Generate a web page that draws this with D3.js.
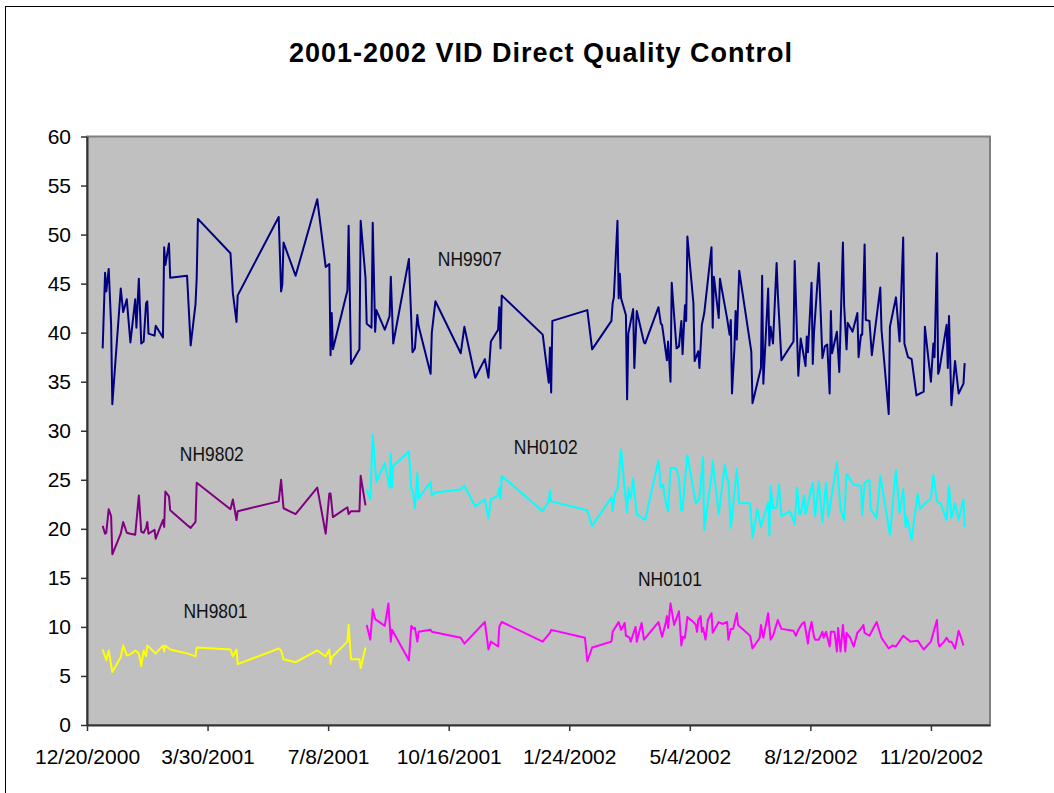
<!DOCTYPE html>
<html>
<head>
<meta charset="utf-8">
<script src="https://cdn.jsdelivr.net/npm/d3@7"></script>
<style>
  body { margin: 0; background: #fff; }
  svg { display: block; font-family: "Liberation Sans", Arial, sans-serif; }
</style>
</head>
<body>
<div class="chart"></div>
<script>
// dates are Excel day serials (36880 = 12/20/2000)
const nh9907 = [
  [36893, 38.4], [36895, 46.1], [36896, 44.2], [36898, 46.5], [36900, 40.8], [36901, 32.7],
  [36908, 44.5], [36910, 42.1], [36913, 43.4], [36916, 39.0], [36920, 43.4], [36921, 40.5],
  [36923, 45.5], [36925, 38.9], [36927, 39.1], [36929, 43.0], [36930, 43.2], [36931, 39.9],
  [36936, 39.7], [36937, 40.7], [36943, 39.5], [36944, 48.7], [36945, 46.9], [36948, 49.1],
  [36949, 45.6], [36963, 45.8], [36966, 38.7], [36970, 42.9], [36971, 45.6], [36972, 51.6],
  [36999, 48.1], [37001, 44.0], [37004, 41.1], [37005, 43.8], [37039, 51.8], [37041, 44.2],
  [37042, 44.9], [37043, 49.2], [37053, 45.8], [37071, 53.6], [37078, 46.7], [37081, 47.0],
  [37082, 37.7], [37083, 42.0], [37084, 38.3], [37096, 44.3], [37097, 50.9], [37099, 36.8],
  [37106, 38.3], [37107, 51.4], [37111, 45.6], [37112, 40.9], [37116, 40.5], [37117, 51.2],
  [37119, 40.1], [37120, 42.3], [37127, 40.3], [37131, 41.7], [37132, 45.7], [37134, 38.9],
  [37147, 47.5], [37150, 38.0], [37152, 38.4], [37154, 41.8], [37155, 40.7], [37165, 35.8],
  [37166, 40.0], [37169, 43.2], [37190, 37.9], [37193, 40.6], [37202, 35.4], [37210, 37.3],
  [37213, 35.4], [37215, 39.1], [37221, 40.3], [37222, 42.6], [37223, 38.4], [37224, 43.8],
  [37258, 39.8], [37263, 34.9], [37264, 38.5], [37265, 33.9], [37266, 41.2], [37295, 42.3],
  [37299, 38.3], [37315, 41.2], [37316, 43.0], [37317, 43.6], [37320, 51.4], [37321, 43.5],
  [37322, 46.0], [37323, 43.5], [37327, 41.8], [37328, 33.2], [37329, 39.9], [37333, 42.4],
  [37334, 36.4], [37336, 42.2], [37342, 39.0], [37343, 38.9], [37354, 42.6], [37356, 40.9],
  [37357, 40.8], [37361, 37.2], [37362, 39.1], [37364, 35.0], [37365, 45.1], [37369, 38.4],
  [37371, 38.6], [37373, 41.2], [37374, 37.8], [37376, 42.8], [37377, 41.2], [37378, 49.8],
  [37383, 43.0], [37384, 37.1], [37387, 38.1], [37388, 36.4], [37390, 40.8], [37392, 42.0],
  [37398, 48.7], [37399, 40.5], [37400, 45.7], [37404, 41.5], [37405, 45.5], [37411, 41.4],
  [37413, 39.8], [37414, 41.3], [37415, 33.8], [37417, 38.4], [37418, 42.2], [37419, 39.3],
  [37421, 46.3], [37431, 38.1], [37432, 32.8], [37439, 36.4], [37440, 45.8], [37441, 34.8],
  [37445, 44.5], [37446, 38.7], [37447, 40.6], [37449, 38.9], [37452, 47.1], [37453, 44.0],
  [37456, 37.2], [37466, 39.1], [37467, 47.3], [37470, 35.6], [37472, 39.4], [37476, 36.6],
  [37477, 39.6], [37478, 38.0], [37481, 45.1], [37482, 36.8], [37483, 40.0], [37487, 47.1],
  [37490, 37.4], [37492, 38.6], [37494, 38.8], [37496, 33.8], [37497, 42.2], [37498, 37.9],
  [37502, 40.1], [37504, 36.0], [37507, 49.2], [37508, 42.8], [37510, 38.3], [37511, 41.0],
  [37515, 40.1], [37519, 42.0], [37520, 37.5], [37522, 39.8], [37523, 39.8], [37525, 49.0],
  [37526, 41.3], [37529, 41.2], [37531, 37.7], [37538, 44.6], [37539, 40.3], [37545, 31.7],
  [37546, 40.6], [37551, 43.6], [37554, 39.1], [37557, 49.7], [37558, 38.9], [37561, 37.5],
  [37564, 37.3], [37568, 33.6], [37574, 34.0], [37575, 40.6], [37580, 35.0], [37582, 38.9],
  [37583, 37.5], [37585, 48.1], [37586, 35.8], [37587, 36.2], [37593, 40.8], [37594, 36.4],
  [37595, 41.7], [37597, 32.6], [37600, 37.1], [37603, 33.8], [37607, 34.8], [37608, 36.9]
];

const nh9802 = [
  [36893, 20.3], [36895, 19.5], [36896, 19.6], [36898, 22.0], [36900, 21.3], [36901, 17.4],
  [36908, 19.5], [36910, 20.7], [36913, 19.6], [36916, 19.5], [36920, 19.4], [36923, 23.4],
  [36925, 19.7], [36927, 19.6], [36929, 20.1], [36930, 20.7], [36931, 19.5], [36936, 19.9],
  [36937, 19.0], [36943, 20.9], [36944, 20.2], [36945, 23.8], [36948, 23.3], [36949, 21.9],
  [36963, 20.4], [36966, 20.1], [36970, 20.7], [36971, 24.7], [36999, 22.0], [37001, 23.0],
  [37004, 20.9], [37005, 21.8], [37039, 22.8], [37041, 25.0], [37043, 22.1], [37053, 21.5],
  [37071, 24.2], [37078, 19.5], [37081, 23.6], [37082, 23.6], [37084, 21.2], [37096, 22.2],
  [37097, 21.5], [37099, 21.8], [37106, 21.8], [37107, 25.4], [37111, 22.4]
];

const nh0102 = [
  [37112, 24.0], [37115, 23.0], [37117, 29.6], [37120, 24.8], [37127, 26.7], [37131, 24.2],
  [37132, 27.7], [37133, 24.2], [37134, 26.4], [37147, 27.9], [37149, 24.0], [37150, 24.0],
  [37152, 22.1], [37154, 25.7], [37155, 23.1], [37165, 24.8], [37166, 23.4], [37169, 23.7],
  [37190, 24.0], [37193, 24.4], [37202, 22.3], [37210, 23.0], [37213, 21.1], [37215, 23.0],
  [37221, 23.4], [37222, 24.2], [37223, 23.1], [37224, 25.4], [37258, 21.8], [37263, 22.8],
  [37264, 23.9], [37265, 22.8], [37295, 21.9], [37299, 20.3], [37315, 23.2], [37316, 21.8],
  [37318, 23.7], [37320, 24.0], [37323, 28.1], [37326, 24.0], [37328, 21.7], [37329, 24.2],
  [37331, 23.1], [37333, 25.1], [37336, 21.5], [37343, 20.9], [37354, 27.0], [37356, 24.2],
  [37358, 24.5], [37359, 23.3], [37362, 21.8], [37364, 26.2], [37367, 26.2], [37369, 26.1],
  [37371, 25.1], [37373, 21.9], [37374, 21.9], [37376, 25.0], [37378, 27.5], [37382, 24.7],
  [37385, 22.6], [37388, 23.1], [37391, 27.3], [37392, 19.9], [37398, 25.4], [37399, 26.9],
  [37401, 24.7], [37404, 21.5], [37409, 26.5], [37411, 25.0], [37412, 25.0], [37414, 20.1],
  [37419, 26.1], [37421, 22.6], [37430, 22.6], [37432, 19.1], [37436, 22.0], [37439, 20.2],
  [37445, 22.7], [37446, 19.3], [37447, 24.4], [37449, 22.1], [37452, 22.2], [37454, 24.5],
  [37456, 21.3], [37463, 21.8], [37467, 20.5], [37469, 24.2], [37471, 21.5], [37472, 21.5],
  [37475, 23.4], [37476, 21.5], [37482, 24.7], [37484, 21.3], [37487, 24.8], [37490, 20.7],
  [37493, 24.7], [37495, 21.2], [37502, 26.8], [37505, 22.0], [37508, 20.9], [37510, 25.6],
  [37516, 24.5], [37522, 24.4], [37523, 21.4], [37525, 24.7], [37529, 25.0], [37530, 22.0],
  [37535, 21.1], [37538, 25.4], [37546, 19.4], [37551, 26.0], [37554, 21.6], [37557, 24.0],
  [37559, 20.2], [37560, 21.2], [37564, 18.9], [37569, 23.6], [37571, 22.0], [37575, 22.6],
  [37580, 23.1], [37582, 25.5], [37585, 22.8], [37588, 22.6], [37593, 20.9], [37595, 24.4],
  [37597, 21.1], [37600, 22.6], [37603, 20.9], [37607, 23.0], [37608, 20.2]
];

const nh9801 = [
  [36893, 7.7], [36896, 6.6], [36898, 7.6], [36901, 5.4], [36908, 6.9], [36910, 8.1],
  [36913, 7.1], [36916, 7.2], [36920, 7.6], [36923, 7.3], [36925, 6.0], [36927, 7.6],
  [36929, 7.0], [36930, 8.1], [36937, 7.3], [36943, 8.1], [36944, 7.5], [36945, 8.1],
  [36949, 7.7], [36963, 7.3], [36970, 7.0], [36971, 7.9], [36999, 7.7], [37001, 7.0],
  [37004, 7.7], [37005, 6.2], [37039, 7.8], [37041, 7.6], [37043, 6.7], [37053, 6.4],
  [37071, 7.6], [37078, 7.0], [37081, 7.7], [37082, 6.2], [37083, 6.9], [37096, 8.5],
  [37097, 10.2], [37099, 6.7], [37106, 6.7], [37107, 5.8], [37111, 7.9]
];

const nh0101 = [
  [37112, 10.2], [37115, 8.7], [37117, 11.8], [37119, 10.8], [37127, 10.1], [37130, 12.4],
  [37132, 8.5], [37133, 9.7], [37147, 6.6], [37149, 10.1], [37151, 9.8], [37152, 9.9],
  [37154, 8.5], [37155, 9.5], [37165, 9.7], [37166, 9.5], [37190, 8.9], [37193, 8.3],
  [37210, 10.5], [37213, 7.7], [37215, 8.5], [37221, 8.0], [37222, 10.0], [37224, 10.5],
  [37258, 8.5], [37264, 9.4], [37265, 9.7], [37293, 8.9], [37295, 6.5], [37299, 7.9],
  [37315, 8.5], [37316, 9.5], [37318, 9.9], [37321, 10.5], [37323, 9.7], [37326, 10.4],
  [37327, 9.1], [37329, 9.0], [37330, 8.9], [37331, 8.5], [37335, 10.0], [37336, 8.5],
  [37340, 10.4], [37342, 8.7], [37354, 10.5], [37357, 9.0], [37360, 10.4], [37361, 11.1],
  [37362, 9.9], [37364, 12.4], [37367, 10.2], [37371, 11.6], [37373, 8.1], [37374, 9.0],
  [37376, 8.9], [37378, 11.0], [37383, 10.5], [37385, 10.2], [37386, 9.5], [37387, 10.7],
  [37389, 11.1], [37390, 9.5], [37391, 9.9], [37393, 8.7], [37395, 10.7], [37398, 11.4],
  [37399, 9.4], [37404, 10.5], [37407, 10.3], [37411, 10.5], [37412, 8.7], [37414, 9.8],
  [37416, 9.8], [37419, 11.4], [37420, 10.2], [37430, 9.1], [37432, 7.8], [37438, 8.9],
  [37439, 10.2], [37441, 8.9], [37445, 11.4], [37447, 8.7], [37449, 9.1], [37453, 10.7],
  [37456, 9.8], [37466, 9.6], [37468, 9.1], [37470, 9.7], [37473, 10.3], [37475, 10.5],
  [37478, 8.3], [37479, 9.4], [37481, 10.5], [37483, 9.0], [37484, 8.7], [37487, 8.7],
  [37490, 9.5], [37491, 8.9], [37493, 9.5], [37496, 8.0], [37497, 9.5], [37500, 9.5],
  [37502, 7.5], [37503, 9.9], [37505, 7.5], [37507, 10.2], [37509, 7.5], [37510, 9.4],
  [37513, 8.9], [37516, 8.0], [37519, 9.4], [37522, 9.8], [37524, 10.2], [37525, 9.4],
  [37529, 9.1], [37535, 10.5], [37539, 8.9], [37545, 7.8], [37548, 8.1], [37551, 8.0],
  [37557, 9.1], [37563, 8.5], [37569, 8.6], [37574, 7.7], [37580, 8.5], [37582, 9.4],
  [37585, 10.7], [37586, 8.5], [37587, 8.0], [37591, 8.5], [37593, 8.9], [37595, 8.5],
  [37597, 8.5], [37600, 7.8], [37603, 9.6], [37605, 8.9], [37607, 8.1]
];

const tickLabels = ["12/20/2000", "3/30/2001", "7/8/2001", "10/16/2001",
                    "1/24/2002", "5/4/2002", "8/12/2002", "11/20/2002"];
const yTicks = [0, 5, 10, 15, 20, 25, 30, 35, 40, 45, 50, 55, 60];

// series label text with the date serial / value where it sits
const seriesNames = ["NH9907", "NH9802", "NH0102", "NH9801", "NH0101"];
const labelAt = [[37171, 46.8], [36957, 26.9], [37234, 27.65], [36960, 10.9], [37337, 14.2]];

const colors = ["#000080", "#800080", "#00ffff", "#ffff00", "#ff00ff"];
const series = [nh9907, nh9802, nh0102, nh9801, nh0101];

const width = 1054, height = 793;
const plotLeft = 87, plotRight = 990, plotTop = 136.5, plotBottom = 725;

const fromSerial = s => new Date(Date.UTC(1899, 11, 30) + s * 864e5);
const parseTick = d3.utcParse("%m/%d/%Y");

const x = d3.scaleUtc()
    .domain([parseTick(tickLabels[0]), fromSerial(37629)])
    .range([plotLeft, plotRight]);
const y = d3.scaleLinear().domain([0, 60]).range([plotBottom, plotTop]);

const svg = d3.select(".chart").append("svg")
    .attr("width", width)
    .attr("height", height);

// chart border (runs off the page right/bottom)
svg.append("rect")
    .attr("x", 5.5).attr("y", 6.5)
    .attr("width", 1100).attr("height", 900)
    .attr("fill", "#fff").attr("stroke", "#000").attr("stroke-width", 1);

svg.append("text")
    .attr("x", 289).attr("y", 61.5)
    .attr("textLength", 503)
    .style("font-size", "27px").style("font-weight", "bold")
    .text("2001-2002 VID Direct Quality Control");

// plot area
svg.append("rect")
    .attr("x", plotLeft).attr("y", plotTop)
    .attr("width", plotRight - plotLeft).attr("height", plotBottom - plotTop)
    .attr("fill", "#c0c0c0").attr("stroke", "#808080").attr("stroke-width", 2);

const line = d3.line()
    .x(d => x(fromSerial(d[0])))
    .y(d => y(d[1]));

svg.selectAll(".series")
    .data(series)
    .enter().append("path")
    .attr("class", "series")
    .attr("d", line)
    .attr("fill", "none")
    .attr("stroke", (d, i) => colors[i])
    .attr("stroke-width", 2)
    .attr("stroke-linejoin", "round");

svg.selectAll(".lbl")
    .data(seriesNames)
    .enter().append("text")
    .attr("class", "lbl")
    .attr("x", (d, i) => x(fromSerial(labelAt[i][0])))
    .attr("y", (d, i) => y(labelAt[i][1]))
    .attr("textLength", 64)
    .attr("lengthAdjust", "spacingAndGlyphs")
    .style("font-size", "21px")
    .style("fill", "#111")
    .text(d => d);

// axes
const yAxis = svg.append("g")
    .attr("transform", "translate(" + plotLeft + ",0)")
    .call(d3.axisLeft(y).tickValues(yTicks).tickSize(6).tickSizeOuter(0).tickPadding(10));

const xAxis = svg.append("g")
    .attr("transform", "translate(0," + plotBottom + ")")
    .call(d3.axisBottom(x)
        .tickValues(tickLabels.map(parseTick))
        .tickFormat((d, i) => tickLabels[i])
        .tickSize(6).tickSizeOuter(0).tickPadding(18));

[yAxis, xAxis].forEach(g => {
    g.select(".domain").attr("stroke", "#333").attr("stroke-width", 2);
    g.selectAll(".tick line").attr("stroke", "#333").attr("stroke-width", 1.5);
    g.selectAll("text")
        .style("font-family", "'Liberation Sans', Arial, sans-serif")
        .style("font-size", "21px")
        .attr("fill", "#000");
});
</script>
</body>
</html>
